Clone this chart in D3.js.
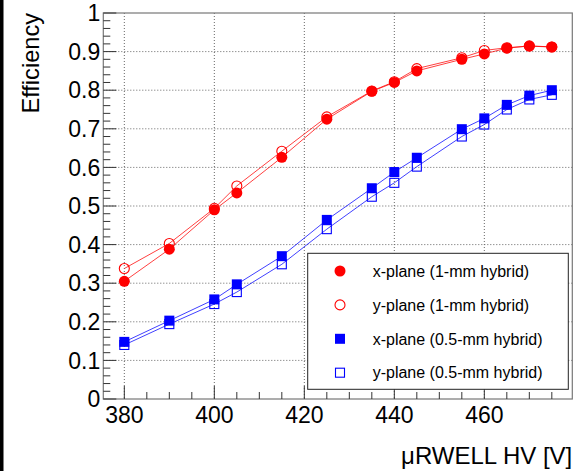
<!DOCTYPE html>
<html>
<head>
<meta charset="utf-8">
<script src="https://cdn.jsdelivr.net/npm/d3@7"></script>
<style>
html,body{margin:0;padding:0;background:#fff;}
svg{display:block;font-family:"Liberation Sans",Arial,Helvetica,sans-serif;}
</style>
</head>
<body>
<svg id="c" width="578" height="471"></svg>
<script>
// ---- data ----
const hv = [380,390,400,405,415,425,435,440,445,455,460,465,470,475];
const xPlane1mm  = [0.305,0.388,0.490,0.534,0.626,0.725,0.797,0.820,0.850,0.880,0.894,0.909,0.915,0.912];
const yPlane1mm  = [0.338,0.403,0.494,0.552,0.642,0.731,0.798,0.822,0.856,0.884,0.903,0.910,0.914,0.912];
const xPlane05mm = [0.148,0.203,0.258,0.297,0.370,0.464,0.546,0.588,0.625,0.699,0.727,0.762,0.786,0.800];
const yPlane05mm = [0.140,0.194,0.246,0.277,0.349,0.440,0.524,0.560,0.602,0.680,0.711,0.750,0.776,0.788];
const xTickLabels = [380,400,420,440,460];
const yTickLabels = [0,0.1,0.2,0.3,0.4,0.5,0.6,0.7,0.8,0.9,1];
const seriesNames = ["x-plane (1-mm hybrid)","y-plane (1-mm hybrid)","x-plane (0.5-mm hybrid)","y-plane (0.5-mm hybrid)"];
const xTitle = "\u03bcRWELL HV [V]";
const yTitle = "Efficiency";

// ---- layout ----
const L = 103.3, R = 572.3, T = 13, B = 399;
const svg = d3.select("#c");
const x = d3.scaleLinear().domain([375.33, 479.55]).range([L, R]);
const y = d3.scaleLinear().domain([0, 1]).range([B, T]);

// left black strip
svg.append("rect").attr("x",0).attr("y",0).attr("width",3.5).attr("height",471).attr("fill","#000");

// grid
const g = svg.append("g");
g.selectAll(".gx").data(xTickLabels).enter().append("line")
  .attr("x1",d=>x(d)).attr("x2",d=>x(d)).attr("y1",T).attr("y2",B)
  .attr("stroke","#666").attr("stroke-width",1).attr("stroke-dasharray","1,2");
g.selectAll(".gy").data(yTickLabels.filter(d=>d>0&&d<1)).enter().append("line")
  .attr("x1",L).attr("x2",R).attr("y1",d=>y(d)).attr("y2",d=>y(d))
  .attr("stroke","#666").attr("stroke-width",1).attr("stroke-dasharray","1,2");

// frame
svg.append("rect").attr("x",L).attr("y",T).attr("width",R-L).attr("height",B-T)
  .attr("fill","none").attr("stroke","#777").attr("stroke-width",1.2);

// ticks
const xMinor = d3.range(380, 480, 5).filter(v=>v>=x.domain()[0]&&v<=x.domain()[1]);
svg.append("g").selectAll("line").data(xMinor).enter().append("line")
  .attr("x1",d=>x(d)).attr("x2",d=>x(d)).attr("y1",B)
  .attr("y2",d=> (d-380)%20===0 ? B-13 : B-7)
  .attr("stroke","#333").attr("stroke-width",1);
const yMinor = d3.range(0, 51).map(i=>i/50);
svg.append("g").selectAll("line").data(yMinor).enter().append("line")
  .attr("y1",d=>y(d)).attr("y2",d=>y(d)).attr("x1",L)
  .attr("x2",(d,i)=> i%5===0 ? L+13 : L+7)
  .attr("stroke","#333").attr("stroke-width",1);

// tick labels
svg.append("g").selectAll("text").data(xTickLabels).enter().append("text")
  .attr("x",d=>x(d)).attr("y",B+24).attr("text-anchor","middle")
  .attr("font-size",23).attr("fill","#000").text(d=>d);
svg.append("g").selectAll("text").data(yTickLabels).enter().append("text")
  .attr("x",L-3).attr("y",d=>y(d)).attr("dy","0.36em").attr("text-anchor","end")
  .attr("font-size",23).attr("fill","#000").text(d=>d3.format("~g")(d));

// axis titles
svg.append("text").attr("x",R).attr("y",464).attr("text-anchor","end")
  .attr("font-size",24).attr("fill","#000").text(xTitle);
svg.append("text").attr("transform",`translate(38.5,${T}) rotate(-90)`)
  .attr("text-anchor","end").attr("font-size",23.6).attr("fill","#000").text(yTitle);

// series
const series = [
  {vals:yPlane1mm, color:"#ff0000", shape:"circle", filled:false},
  {vals:xPlane1mm, color:"#ff0000", shape:"circle", filled:true},
  {vals:yPlane05mm, color:"#0000ff", shape:"square", filled:false},
  {vals:xPlane05mm, color:"#0000ff", shape:"square", filled:true}
];
const line = d3.line().x(d=>x(d[0])).y(d=>y(d[1]));
function marker(sel, shape, filled, color){
  if(shape==="circle"){
    sel.append("circle").attr("r", filled?5.5:5)
      .attr("fill", filled?color:"none").attr("stroke",color).attr("stroke-width",filled?0:1.1);
  } else {
    const s = filled?10:9;
    sel.append("rect").attr("x",-s/2).attr("y",-s/2).attr("width",s).attr("height",s)
      .attr("fill", filled?color:"none").attr("stroke",color).attr("stroke-width",filled?0:1.1);
  }
}
series.forEach(s=>{
  const pts = hv.map((h,i)=>[h,s.vals[i]]);
  svg.append("path").datum(pts).attr("d",line).attr("fill","none")
    .attr("stroke",s.color).attr("stroke-width",1).attr("stroke-opacity",0.75);
});
series.forEach(s=>{
  const pts = hv.map((h,i)=>[h,s.vals[i]]);
  svg.append("g").selectAll("g").data(pts).enter().append("g")
    .attr("transform",d=>`translate(${x(d[0])},${y(d[1])})`)
    .each(function(){ marker(d3.select(this), s.shape, s.filled, s.color); });
});

// legend
const lg = svg.append("g");
lg.append("rect").attr("x",307.7).attr("y",253.3).attr("width",260.6).attr("height",136)
  .attr("fill","#fff").attr("stroke","#222").attr("stroke-width",1);
const legendItems = [
  {name:seriesNames[0], color:"#ff0000", shape:"circle", filled:true},
  {name:seriesNames[1], color:"#ff0000", shape:"circle", filled:false},
  {name:seriesNames[2], color:"#0000ff", shape:"square", filled:true},
  {name:seriesNames[3], color:"#0000ff", shape:"square", filled:false}
];
const rowY = d3.scaleLinear().domain([0,3]).range([271,372.7]);
legendItems.forEach((it,i)=>{
  const gg = lg.append("g").attr("transform",`translate(340,${rowY(i)})`);
  marker(gg, it.shape, it.filled, it.color);
  lg.append("text").attr("x",372.7).attr("y",rowY(i)).attr("dy","0.36em")
    .attr("font-size",16).attr("fill","#000").text(it.name);
});
</script>
</body>
</html>
